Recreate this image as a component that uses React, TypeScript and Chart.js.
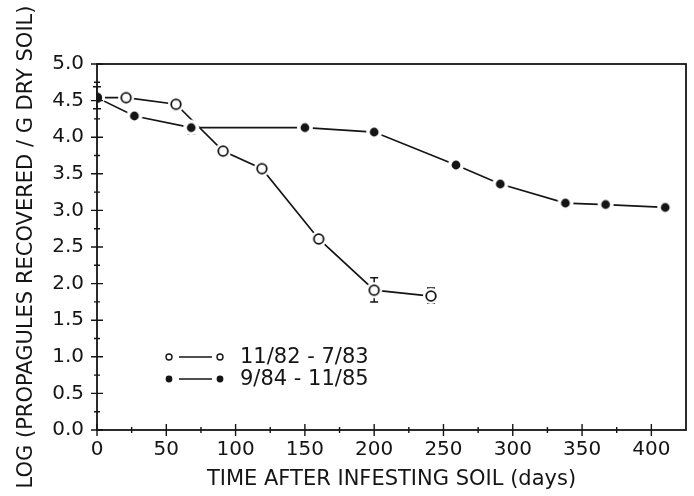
import React, { useEffect, useRef } from 'react';
import { Chart, registerables } from 'chart.js';
Chart.register(...registerables);

// Series 1: 11/82 - 7/83 (open circles)
const daysA = [0, 21, 57, 91, 119, 160, 200, 241];
const logA = [4.54, 4.54, 4.45, 3.81, 3.57, 2.61, 1.91, 1.83];
const errLowA = [0.15, 0, 0, 0, 0, 0, 0.16, 0.1];
const errHighA = [0.15, 0, 0, 0, 0, 0, 0.17, 0.11];

// Series 2: 9/84 - 11/85 (filled circles)
const daysB = [0, 27, 68, 150, 200, 259, 291, 338, 367, 410];
const logB = [4.54, 4.29, 4.13, 4.13, 4.07, 3.62, 3.36, 3.1, 3.08, 3.04];
const errLowB = [0, 0, 0.09, 0, 0, 0, 0, 0, 0, 0];
const errHighB = [0, 0, 0, 0, 0, 0, 0, 0, 0, 0];

const legendLabels = ['11/82 - 7/83', '9/84 - 11/85'];
const xTitle = 'TIME AFTER INFESTING SOIL (days)';
const yTitle = 'LOG (PROPAGULES RECOVERED / G DRY SOIL)';
const xMin = 0, xMax = 425, xStep = 25, xMajor = 50;
const yMin = 0, yMax = 5, yStep = 0.25, yMajor = 0.5;

const INK = '#151515';
const FONT = 'DejaVu Sans';

function makeMarker(filled: boolean, big: boolean) {
  const c = document.createElement('canvas');
  c.width = 20; c.height = 20;
  const g = c.getContext('2d')!;
  g.fillStyle = '#fff';
  g.beginPath(); g.arc(10, 10, 8, 0, Math.PI * 2); g.fill();
  g.beginPath(); g.arc(10, 10, filled ? (big ? 5.2 : 4.4) : 4.8, 0, Math.PI * 2);
  if (filled) { g.fillStyle = INK; g.fill(); }
  else { g.lineWidth = 1.8; g.strokeStyle = INK; g.stroke(); }
  return c;
}

const errorBarPlugin = {
  id: 'errorBars',
  beforeDatasetsDraw(chart: any) {
    const { ctx, scales: { x, y } } = chart;
    ctx.save();
    ctx.strokeStyle = INK;
    ctx.lineWidth = 1.5;
    chart.data.datasets.forEach((ds: any) => {
      ds.data.forEach((p: any, i: number) => {
        const lo = ds.errLow[i], hi = ds.errHigh[i];
        if (!lo && !hi) return;
        const px = x.getPixelForValue(p.x);
        const yt = y.getPixelForValue(p.y + hi);
        const yb = y.getPixelForValue(p.y - lo);
        ctx.beginPath();
        ctx.moveTo(px, yt); ctx.lineTo(px, yb);
        ctx.moveTo(px - 4, yt); ctx.lineTo(px + 4, yt);
        ctx.moveTo(px - 4, yb); ctx.lineTo(px + 4, yb);
        ctx.stroke();
      });
    });
    ctx.restore();
  },
};

const framePlugin = {
  id: 'frameTicksLegend',
  afterDraw(chart: any) {
    const { ctx, chartArea: a, scales: { x, y } } = chart;
    ctx.save();
    ctx.strokeStyle = INK;
    ctx.lineWidth = 1.8;
    ctx.strokeRect(a.left, a.top, a.right - a.left, a.bottom - a.top);
    ctx.lineWidth = 1.4;
    ctx.beginPath();
    x.ticks.forEach((t: any) => {
      const px = x.getPixelForValue(t.value);
      if (px > a.right - 2) return;
      const L = Math.abs(t.value % xMajor) < 1e-6 ? 6 : 3;
      ctx.moveTo(px, a.bottom - L); ctx.lineTo(px, a.bottom + L);
    });
    y.ticks.forEach((t: any) => {
      const py = y.getPixelForValue(t.value);
      const L = Math.abs(t.value % yMajor) < 1e-6 ? 6 : 3;
      ctx.moveTo(a.left - L, py); ctx.lineTo(a.left + L, py);
    });
    ctx.stroke();

    // legend inside plot
    const rows = [a.bottom - 73, a.bottom - 51];
    const lx = a.left + 72;
    ctx.fillStyle = INK;
    ctx.font = `21px "${FONT}"`;
    ctx.textBaseline = 'middle';
    ctx.textAlign = 'left';
    rows.forEach((ry, i) => {
      const filled = i === 1;
      ctx.lineWidth = 1.4;
      ctx.beginPath(); ctx.moveTo(lx + 10, ry); ctx.lineTo(lx + 43, ry); ctx.stroke();
      [lx, lx + 51].forEach((cx) => {
        ctx.beginPath(); ctx.arc(cx, ry, filled ? 3.4 : 3, 0, Math.PI * 2);
        if (filled) ctx.fill(); else ctx.stroke();
      });
      ctx.fillText(legendLabels[i], lx + 71, ry + 1);
    });
    ctx.restore();
  },
};

export default function App() {
  const ref = useRef<HTMLCanvasElement>(null);
  useEffect(() => {
    document.body.style.margin = '0';
    const openMk = makeMarker(false, false);
    const fillMk = makeMarker(true, false);
    const fillBig = makeMarker(true, true);
    const chart = new Chart(ref.current!, {
      type: 'scatter',
      data: {
        datasets: [
          {
            label: legendLabels[1],
            data: daysB.map((d, i) => ({ x: d, y: logB[i] })),
            showLine: true,
            borderColor: INK,
            borderWidth: 1.7,
            pointStyle: daysB.map((d) => (d === 0 ? fillBig : fillMk)) as any,
            pointRadius: 5,
            tension: 0,
            errLow: errLowB,
            errHigh: errHighB,
          } as any,
          {
            label: legendLabels[0],
            data: daysA.map((d, i) => ({ x: d, y: logA[i] })),
            showLine: true,
            borderColor: INK,
            borderWidth: 1.7,
            pointStyle: openMk as any,
            pointRadius: 5,
            tension: 0,
            errLow: errLowA,
            errHigh: errHighA,
          } as any,
        ],
      },
      options: {
        responsive: false,
        animation: false,
        devicePixelRatio: 1,
        layout: { padding: { top: 64, right: 7, left: 0, bottom: 0 } },
        plugins: { legend: { display: false }, tooltip: { enabled: false } },
        scales: {
          x: {
            type: 'linear',
            min: xMin,
            max: xMax,
            afterFit: (s: any) => { s.height = 66; },
            grid: { display: false, drawTicks: false },
            border: { display: false },
            ticks: {
              stepSize: xStep,
              autoSkip: false,
              maxRotation: 0,
              padding: 8,
              color: INK,
              font: { family: FONT, size: 20 },
              callback: (v: any) => (Math.abs(v % xMajor) < 1e-6 ? String(v) : ''),
            },
            title: {
              display: true,
              text: xTitle,
              color: INK,
              font: { family: FONT, size: 21 },
              padding: { top: 0, bottom: 4 },
            },
          },
          y: {
            type: 'linear',
            min: yMin,
            max: yMax,
            afterFit: (s: any) => { s.width = 97; },
            grid: { display: false, drawTicks: false },
            border: { display: false },
            ticks: {
              stepSize: yStep,
              autoSkip: false,
              padding: 13,
              color: INK,
              font: { family: FONT, size: 20 },
              callback: (v: any) => (Math.abs(v % yMajor) < 1e-6 ? Number(v).toFixed(1) : ''),
            },
            title: {
              display: true,
              text: yTitle,
              color: INK,
              font: { family: FONT, size: 21 },
              padding: { top: 14, bottom: 0 },
            },
          },
        },
      },
      plugins: [errorBarPlugin, framePlugin],
    });
    return () => chart.destroy();
  }, []);
  return (
    <div style={{ width: 694, height: 496, background: '#fff' }}>
      <canvas ref={ref} width={694} height={496} style={{ display: 'block' }} />
    </div>
  );
}
